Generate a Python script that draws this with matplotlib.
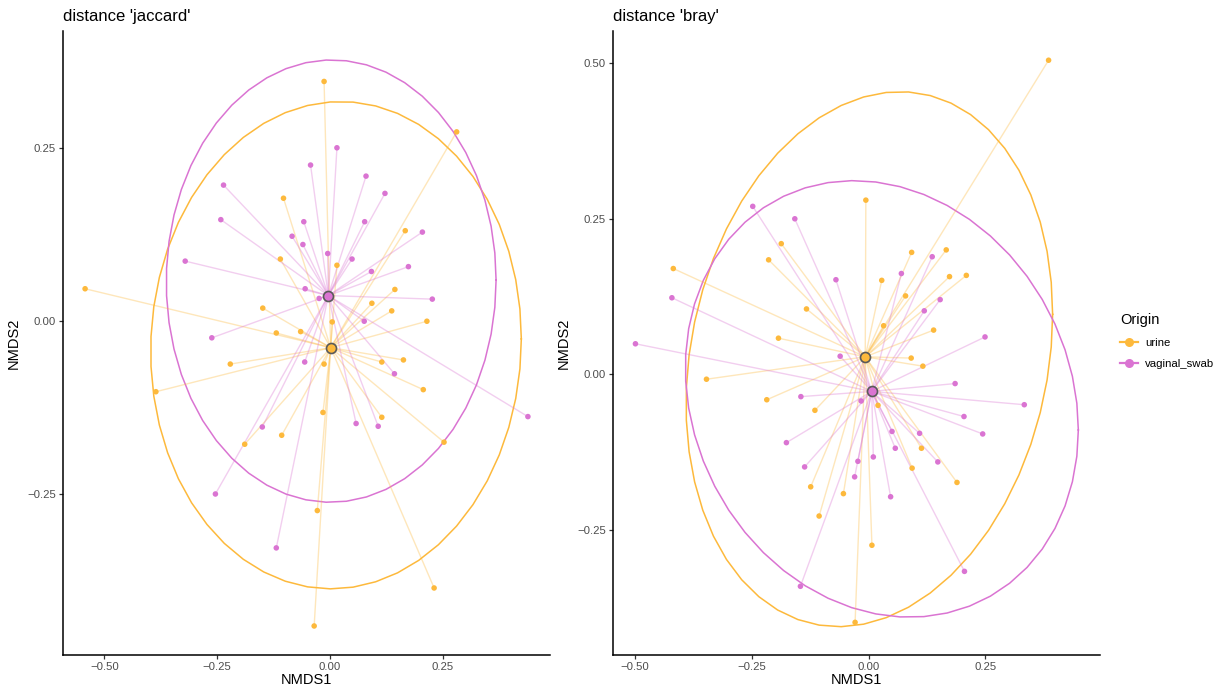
import numpy as np
import matplotlib
matplotlib.use("Agg")
import matplotlib.pyplot as plt
from matplotlib.lines import Line2D

plt.rcParams['font.family'] = ['Liberation Sans', 'DejaVu Sans']

# NMDS scores, Jaccard distance
jac_urine_x = [-0.013, 0.281, -0.103, 0.167, -0.110, 0.0155, -0.543, 0.144, 0.093, 0.137,
               -0.149, 0.005, 0.215, -0.119, -0.065, -0.221, -0.013, 0.115, 0.163, 0.207,
               -0.386, -0.0155, 0.115, -0.107, -0.189, 0.253, -0.028, 0.231, -0.035]
jac_urine_y = [0.347, 0.274, 0.178, 0.131, 0.090, 0.081, 0.047, 0.046, 0.026, 0.015,
               0.019, -0.001, 0.000, -0.017, -0.015, -0.062, -0.062, -0.059, -0.056, -0.099,
               -0.102, -0.132, -0.139, -0.165, -0.178, -0.175, -0.274, -0.386, -0.441]
jac_swab_x = [0.0155, -0.043, 0.080, 0.122, -0.236, -0.242, -0.058, 0.077, -0.084, -0.060,
              0.205, -0.321, -0.005, 0.049, 0.174, 0.092, -0.055, -0.024, 0.227, 0.076,
              -0.262, -0.056, 0.143, 0.439, -0.150, 0.058, 0.107, -0.254, -0.119]
jac_swab_y = [0.251, 0.226, 0.210, 0.185, 0.197, 0.147, 0.144, 0.144, 0.123, 0.111,
              0.129, 0.087, 0.098, 0.090, 0.079, 0.072, 0.047, 0.033, 0.032, 0.000,
              -0.024, -0.059, -0.076, -0.138, -0.153, -0.148, -0.152, -0.250, -0.328]

# NMDS scores, Bray-Curtis distance
bray_urine_x = [0.385, -0.006, -0.187, -0.214, -0.418, 0.092, 0.166, 0.173, 0.209, 0.028,
                0.079, -0.133, 0.032, 0.139, -0.193, 0.091, 0.116, -0.347, -0.218, -0.115,
                0.020, 0.113, 0.093, 0.189, -0.124, -0.054, -0.106, 0.007, -0.029]
bray_urine_y = [0.505, 0.280, 0.210, 0.184, 0.170, 0.196, 0.200, 0.157, 0.159, 0.151,
                0.126, 0.105, 0.078, 0.071, 0.058, 0.026, 0.013, -0.008, -0.041, -0.058,
                -0.050, -0.119, -0.151, -0.174, -0.181, -0.192, -0.228, -0.275, -0.399]
bray_swab_x = [-0.248, -0.158, -0.070, 0.070, 0.136, 0.153, 0.119, -0.421, 0.249, -0.499,
               -0.061, 0.185, -0.145, -0.016, 0.333, 0.204, 0.244, 0.050, 0.109, -0.176,
               0.057, 0.010, -0.023, 0.148, -0.137, -0.030, 0.047, -0.146, 0.205]
bray_swab_y = [0.270, 0.250, 0.152, 0.162, 0.189, 0.120, 0.102, 0.123, 0.060, 0.049,
               0.029, -0.015, -0.036, -0.043, -0.049, -0.068, -0.096, -0.092, -0.095, -0.110,
               -0.119, -0.133, -0.140, -0.141, -0.149, -0.165, -0.197, -0.341, -0.317]

groups = ["urine", "vaginal_swab"]
colors = {"urine": "#FDB93C", "vaginal_swab": "#DA74D2"}
titles = ["distance 'jaccard'", "distance 'bray'"]


def cov_trob(X, nu=5, maxit=25, tol=0.01):
    """Multivariate t robust location / scatter (as MASS::cov.trob)."""
    n, p = X.shape
    wt = np.ones(n)
    loc = X.mean(axis=0)
    w = np.sqrt(wt)
    Xc = X - loc
    for _ in range(maxit):
        w0 = w
        Xc = X - loc
        _, d, vt = np.linalg.svd(np.sqrt(w / w.sum())[:, None] * Xc, full_matrices=False)
        wX = Xc @ vt.T @ np.diag(1.0 / d)
        Q = (wX ** 2).sum(axis=1)
        w = wt * (nu + p) / (nu + Q)
        loc = (w[:, None] * X).sum(axis=0) / w.sum()
        if np.all(np.abs(w - w0) < tol):
            break
    sw = np.sqrt(w)[:, None] * Xc
    return loc, sw.T @ sw / wt.sum()


def t_ellipse(x, y, level=0.95, segments=51):
    X = np.column_stack([x, y])
    n = len(x)
    center, shape = cov_trob(X)
    dfd = n - 1
    # F quantile for 2 numerator df has a closed form
    qf = dfd / 2.0 * ((1 - level) ** (-2.0 / dfd) - 1)
    radius = np.sqrt(2 * qf)
    ang = np.linspace(0, 2 * np.pi, segments + 1)
    circ = np.column_stack([np.cos(ang), np.sin(ang)])
    L = np.linalg.cholesky(shape)
    pts = center + radius * (circ @ L.T)
    return pts[:, 0], pts[:, 1]


panels = [
    {"urine": (jac_urine_x, jac_urine_y), "vaginal_swab": (jac_swab_x, jac_swab_y)},
    {"urine": (bray_urine_x, bray_urine_y), "vaginal_swab": (bray_swab_x, bray_swab_y)},
]
xlims = [(-0.592, 0.488), (-0.547, 0.495)]
ylims = [(-0.483, 0.420), (-0.4515, 0.552)]
xticks = [[-0.50, -0.25, 0.00, 0.25], [-0.50, -0.25, 0.00, 0.25]]
yticks = [[-0.25, 0.00, 0.25], [-0.25, 0.00, 0.25, 0.50]]

W, H = 1224, 692
fig = plt.figure(figsize=(W / 100, H / 100), dpi=100)
rects = [(63, 31, 550, 655), (613, 31, 1100, 655)]
axes = []
for (l, t, r, b) in rects:
    axes.append(fig.add_axes([l / W, 1 - b / H, (r - l) / W, (b - t) / H]))

for i, ax in enumerate(axes):
    data = panels[i]
    for g in groups:
        x, y = np.array(data[g][0]), np.array(data[g][1])
        ex, ey = t_ellipse(x, y)
        ax.plot(ex, ey, color=colors[g], lw=1.1, zorder=2)
    for g in groups:
        x, y = np.array(data[g][0]), np.array(data[g][1])
        cx, cy = x.mean(), y.mean()
        for xi, yi in zip(x, y):
            ax.plot([cx, xi], [cy, yi], color=colors[g], lw=1.0, alpha=0.35, zorder=3)
    for g in groups:
        x, y = np.array(data[g][0]), np.array(data[g][1])
        ax.scatter(x, y, s=16, color=colors[g], edgecolors='none', zorder=4)
    for g in groups:
        x, y = np.array(data[g][0]), np.array(data[g][1])
        ax.scatter([x.mean()], [y.mean()], s=52, color=colors[g], edgecolors='#5A5A5A',
                   linewidths=1.2, zorder=5)

    ax.set_xlim(*xlims[i])
    ax.set_ylim(*ylims[i])
    ax.set_xticks(xticks[i])
    ax.set_xticklabels([f"{v:.2f}".replace("-", "\u2212") for v in xticks[i]])
    ax.set_yticks(yticks[i])
    ax.set_yticklabels([f"{v:.2f}".replace("-", "\u2212") for v in yticks[i]])
    for s in ["top", "right"]:
        ax.spines[s].set_visible(False)
    for s in ["left", "bottom"]:
        ax.spines[s].set_linewidth(1.1)
        ax.spines[s].set_color("black")
    ax.tick_params(axis='both', length=3, width=0.9, colors='#333333',
                   labelsize=8.2, labelcolor='#4D4D4D', pad=2)
    ax.set_xlabel("NMDS1", fontsize=10.5, color='black', labelpad=1)
    ax.set_ylabel("NMDS2", fontsize=10.5, color='black', labelpad=5)
    ax.set_title(titles[i], loc='left', fontsize=12, color='black', pad=7)

handles = [Line2D([0], [0], color=colors[g], marker='o', markersize=6.5, lw=1.6,
                  markeredgewidth=0) for g in groups]
leg = fig.legend(handles, groups, title="Origin", loc='upper left',
                 bbox_to_anchor=(1110 / W, 1 - 303 / H), frameon=False,
                 fontsize=8.2, title_fontsize=10.5, handlelength=1.6,
                 handletextpad=0.6, labelspacing=0.95)
leg._legend_box.align = "left"

fig.savefig("out.png", dpi=100)
